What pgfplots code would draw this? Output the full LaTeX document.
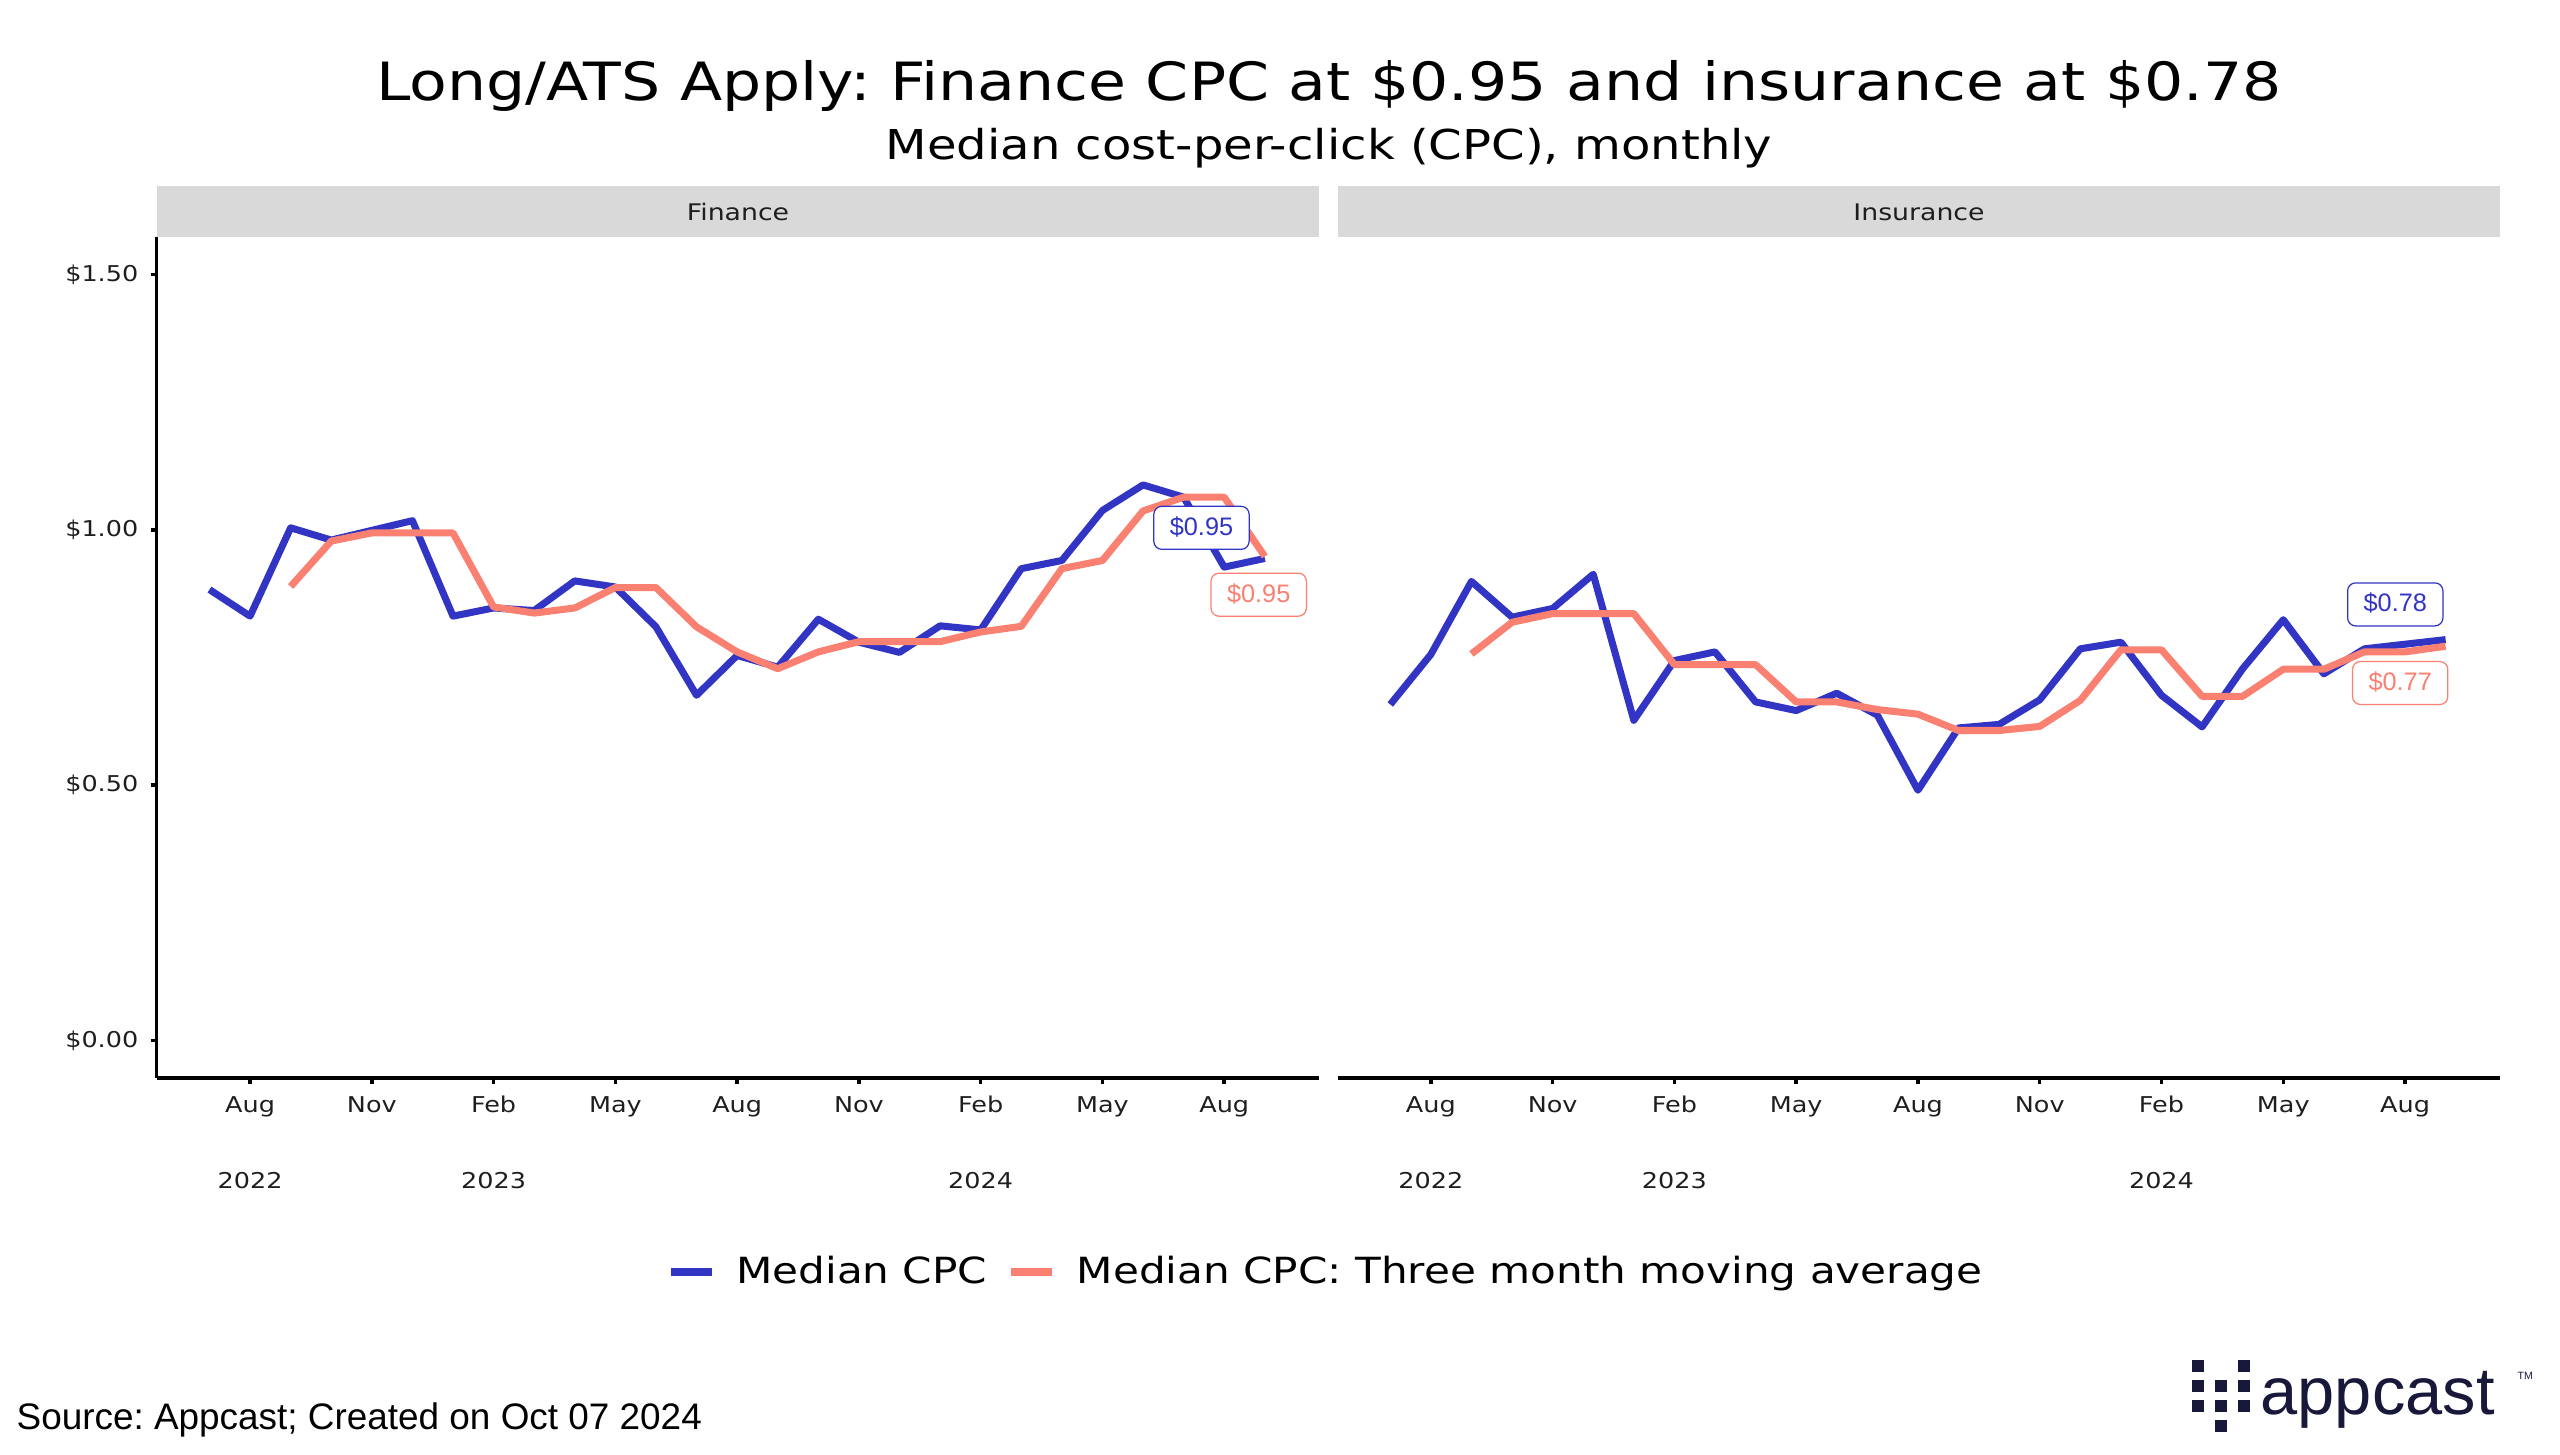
\documentclass[border=0pt]{standalone}
\usepackage{pgfplots}
\pgfplotsset{compat=1.18}
\usepackage{fontspec}
\setmainfont{DejaVu Sans}[FakeStretch=1.17]
\newfontfamily\lib{Liberation Sans}
\definecolor{cblue}{RGB}{50,52,196}
\definecolor{csal}{RGB}{250,128,114}
\definecolor{strip}{RGB}{217,217,217}
\definecolor{navy}{RGB}{24,24,58}
\definecolor{tickc}{RGB}{30,30,30}

\pgfplotstableread{
x y
0 0.883
1 0.831
2 1.004
3 0.980
4 0.999
5 1.018
6 0.831
7 0.847
8 0.842
9 0.900
10 0.888
11 0.810
12 0.676
13 0.754
14 0.731
15 0.825
16 0.780
17 0.760
18 0.812
19 0.804
20 0.924
21 0.940
22 1.038
23 1.088
24 1.064
25 0.927
26 0.944
}\finblue
\pgfplotstableread{
x y
2 0.889
3 0.978
4 0.994
5 0.994
6 0.994
7 0.849
8 0.837
9 0.847
10 0.887
11 0.887
12 0.810
13 0.761
14 0.728
15 0.761
16 0.781
17 0.781
18 0.781
19 0.800
20 0.811
21 0.924
22 0.940
23 1.037
24 1.064
25 1.064
26 0.948
}\finsal
\pgfplotstableread{
x y
0 0.658
1 0.756
2 0.899
3 0.829
4 0.846
5 0.913
6 0.627
7 0.744
8 0.761
9 0.663
10 0.646
11 0.680
12 0.637
13 0.490
14 0.612
15 0.619
16 0.667
17 0.767
18 0.780
19 0.676
20 0.614
21 0.728
22 0.824
23 0.718
24 0.767
25 0.776
26 0.785
}\insblue
\pgfplotstableread{
x y
2 0.757
3 0.819
4 0.836
5 0.836
6 0.836
7 0.736
8 0.736
9 0.736
10 0.663
11 0.663
12 0.648
13 0.639
14 0.607
15 0.607
16 0.615
17 0.666
18 0.765
19 0.765
20 0.674
21 0.674
22 0.727
23 0.727
24 0.761
25 0.761
26 0.772
}\inssal

\tikzset{
  lab/.style={fill=white, rounded corners=0.8mm, line width=0.35pt, inner xsep=1.6mm, inner ysep=1mm,
    text height=1.9mm, text depth=0.4mm, font=\lib\fontsize{7.2}{8}\selectfont},
}
\pgfplotsset{
  panel/.style={
    scale only axis, width=116.25mm, height=84.1mm,
    xmin=-1.3, xmax=27.34, ymin=-0.0736, ymax=1.5736,
    clip=false,
    axis x line*=bottom,
    axis line style={line width=0.35mm, black, -},
    tick align=outside,
    major tick length=0.6mm,
    tick style={line width=0.35mm, black},
    xtick={1,4,7,10,13,16,19,22,25},
    xticklabels={Aug,Nov,Feb,May,Aug,Nov,Feb,May,Aug},
    ytick={0,0.5,1,1.5},
    yticklabels={\$0.00,\$0.50,\$1.00,\$1.50},
    tick label style={font=\fontsize{6.2}{7}\selectfont, text=tickc},
    xticklabel style={text height=1.6mm, text depth=0.45mm},
    extra x ticks={1,7,19},
    extra x tick labels={2022,2023,2024},
    extra x tick style={major tick length=0pt, tick style={draw=none}, xticklabel style={yshift=-8.2mm}},
    every axis plot/.append style={line width=2pt, line join=round, no markers},
  },
}

\begin{document}
\frenchspacing
\begin{tikzpicture}
\useasboundingbox (0,0) rectangle (256mm,145.5mm);

% title
\node[anchor=base, font=\fontsize{15}{18}\selectfont] at (132.9mm,135.4mm) {Long/ATS Apply: Finance CPC at \$0.95 and insurance at \$0.78};
\node[anchor=base, font=\fontsize{11.7}{14}\selectfont] at (132.9mm,129.5mm) {Median cost-per-click (CPC), monthly};

% strips
\fill[strip] (15.67mm,121.8mm) rectangle (131.92mm,126.85mm);
\fill[strip] (133.75mm,121.8mm) rectangle (250.0mm,126.85mm);
\node[font=\fontsize{6.5}{8}\selectfont, text=tickc] at (73.8mm,124.3mm) {Finance};
\node[font=\fontsize{6.5}{8}\selectfont, text=tickc] at (191.9mm,124.3mm) {Insurance};

\begin{axis}[panel, at={(15.67mm,37.7mm)}, anchor=south west,
  axis y line*=left,
  legend style={at={(1.0077,-0.2307)}, anchor=center, draw=none, fill=none,
    font=\fontsize{10.25}{12}\selectfont, legend columns=2,
    /tikz/every even column/.append style={column sep=1.3mm}},
  legend image code/.code={\draw[#1, line width=0.8mm] (0mm,0mm) -- (4.1mm,0mm); \path (5.5mm,0mm);},
]
\addplot[cblue] table[x=x,y=y] {\finblue};
\addlegendentry{Median CPC}
\addplot[csal] table[x=x,y=y] {\finsal};
\addlegendentry{Median CPC: Three month moving average}
\node[lab, draw=cblue, text=cblue] at (axis cs:24.44,1.004) {\$0.95};
\node[lab, draw=csal, text=csal] at (axis cs:25.85,0.873) {\$0.95};
\end{axis}

\begin{axis}[panel, at={(133.75mm,37.7mm)}, anchor=south west,
  axis y line=none]
\addplot[cblue] table[x=x,y=y] {\insblue};
\addplot[csal] table[x=x,y=y] {\inssal};
\node[lab, draw=cblue, text=cblue] at (axis cs:24.76,0.854) {\$0.78};
\node[lab, draw=csal, text=csal] at (axis cs:24.88,0.700) {\$0.77};
\end{axis}

% source
\node[anchor=base west, inner sep=0pt, font=\lib\fontsize{10.5}{12}\selectfont] at (1.6mm,2.5mm) {Source: Appcast; Created on Oct 07 2024};

% logo
\begin{scope}[navy]
\foreach \c/\r in {0/0,2/0,0/1,1/1,2/1,0/2,1/2,2/2,1/3}{
  \fill ({219.17mm+\c*2.33mm},{145.5mm-136.0mm-\r*2.0mm}) rectangle ++(1.2mm,-1.2mm);
}
\node[anchor=base west, inner sep=0pt, text=navy, font=\lib\fontsize{19}{22}\selectfont] at (226.0mm,4.0mm) {appcast};
\node[anchor=base west, inner sep=0pt, text=navy, font=\lib\fontsize{3}{4}\selectfont] at (251.7mm,7.5mm) {TM};
\end{scope}
\end{tikzpicture}
\end{document}
